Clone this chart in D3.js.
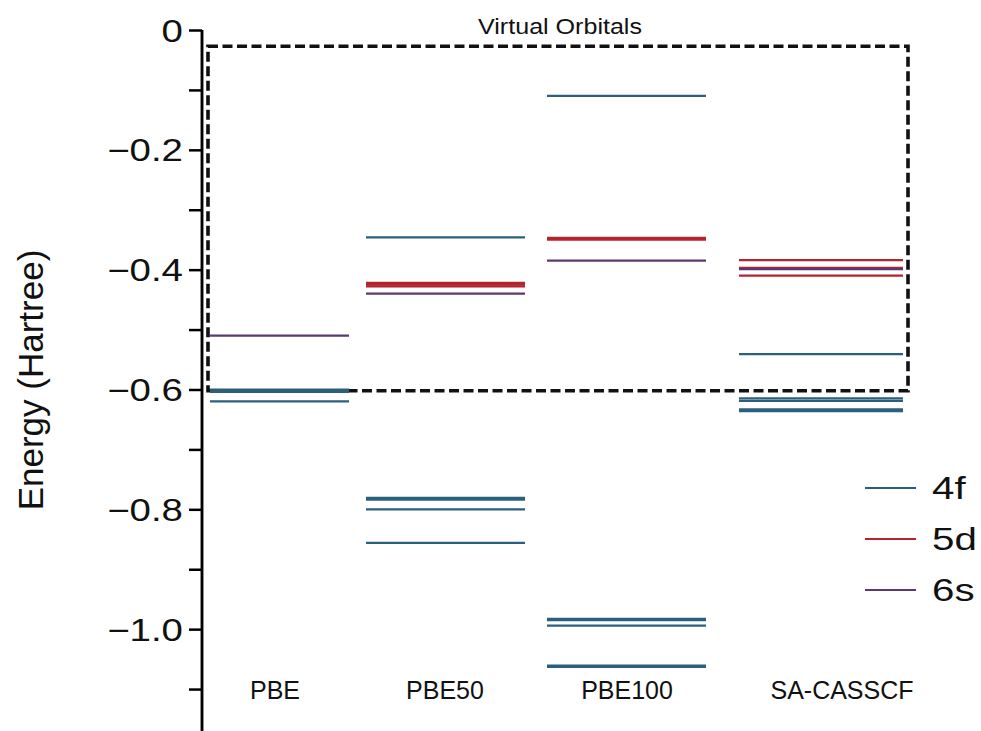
<!DOCTYPE html>
<html><head><meta charset="utf-8">
<script src="https://cdn.jsdelivr.net/npm/d3@7"></script>
<style>body{margin:0;background:#fff}text{font-family:"Liberation Sans",Arial,sans-serif;fill:#111}</style>
</head><body><svg id="c" width="981" height="731"></svg>
<script>
const methods = ["PBE","PBE50","PBE100","SA-CASSCF"];
const orbitals = ["4f","5d","6s"];
const colors = ["#2b5f7b","#b3242f","#5b3970"];
// energy levels (Hartree) per method, one array per orbital type
const levels4f = [
  [-0.600,-0.602,-0.604,-0.620],
  [-0.346,-0.781,-0.784,-0.800,-0.856],
  [-0.110,-0.983,-0.985,-0.994,-1.061,-1.063],
  [-0.541,-0.615,-0.619,-0.633,-0.636]
];
const levels5d = [
  [],
  [-0.422,-0.425,-0.428],
  [-0.347,-0.350],
  [-0.384,-0.397,-0.410]
];
const levels6s = [
  [-0.510],
  [-0.440],
  [-0.385],
  [-0.399]
];
const majorTicks = [0,-0.2,-0.4,-0.6,-0.8,-1.0];
const minorTicks = [-0.1,-0.3,-0.5,-0.7,-0.9,-1.1];
const boxTop = -0.027, boxBottom = -0.602;

const svg = d3.select("#c");
const y = d3.scaleLinear().domain([0,-1.17]).range([30,731]);
const xL = d3.scaleOrdinal().domain(methods).range([210,366,547,739]);
const xR = d3.scaleOrdinal().domain(methods).range([349,525,706,903]);
const xLab = d3.scaleOrdinal().domain(methods).range([275,445,627,842]);

function place(sel, fx, fy, sx){
  sel.attr("x",0).attr("y",0)
     .attr("transform",(d,i)=>`translate(${fx(d,i)},${fy(d,i)}) scale(${sx},1)`);
}

// dashed virtual orbital box
svg.append("rect").attr("x",208).attr("y",y(boxTop)).attr("width",700)
  .attr("height",y(boxBottom)-y(boxTop)).attr("fill","none")
  .attr("stroke","#111").attr("stroke-width",3.6).attr("stroke-dasharray","10,4.5");
place(svg.append("text").datum(0).attr("text-anchor","middle").attr("font-size",22).text("Virtual Orbitals"),
  ()=>560, ()=>34, 1.14);

// levels
const all = [levels4f,levels5d,levels6s];
const segs = [];
all.forEach((arr,oi)=>arr.forEach((vals,mi)=>vals.forEach(v=>segs.push({m:methods[mi],v,oi}))));
svg.append("g").selectAll("line").data(segs).join("line")
  .attr("x1",d=>xL(d.m)).attr("x2",d=>xR(d.m))
  .attr("y1",d=>y(d.v)).attr("y2",d=>y(d.v))
  .attr("stroke",d=>colors[d.oi]).attr("stroke-width",2.2);

// axis
const ax = svg.append("g").attr("transform","translate(202,0)");
ax.call(d3.axisLeft(y).tickValues(majorTicks).tickSize(13).tickPadding(6)
  .tickFormat(d=>d===0?"0":d3.format(".1f")(d).replace("-","\u2212")));
ax.append("g").call(d3.axisLeft(y).tickValues(minorTicks).tickSize(13).tickFormat(""));
ax.selectAll(".domain").attr("stroke","#000").attr("stroke-width",2.5).attr("d","M0,30V731");
ax.selectAll(".tick line").attr("stroke","#000").attr("stroke-width",2.5);
ax.selectAll(".tick text").attr("font-size",31).attr("font-family","Liberation Sans, Arial, sans-serif")
  .attr("dy","0.36em").attr("x",0).attr("transform","translate(-19,0) scale(1.24,1)");

svg.append("text").attr("transform","translate(43,380) rotate(-90)").attr("text-anchor","middle")
  .attr("font-size",35).text("Energy (Hartree)");

// method labels
place(svg.append("g").selectAll("text").data(methods).join("text")
  .attr("text-anchor","middle").attr("font-size",25).text(d=>d),
  d=>xLab(d), ()=>699, 1.0);

// legend
const lg = svg.append("g").selectAll("g").data(orbitals).join("g")
  .attr("transform",(d,i)=>`translate(865,${488+i*51})`);
lg.append("line").attr("x1",0).attr("x2",51).attr("stroke",(d,i)=>colors[i]).attr("stroke-width",2.2);
place(lg.append("text").attr("dy","0.36em").attr("font-size",31).text(d=>d), ()=>67, ()=>0, 1.3);
</script></body></html>
